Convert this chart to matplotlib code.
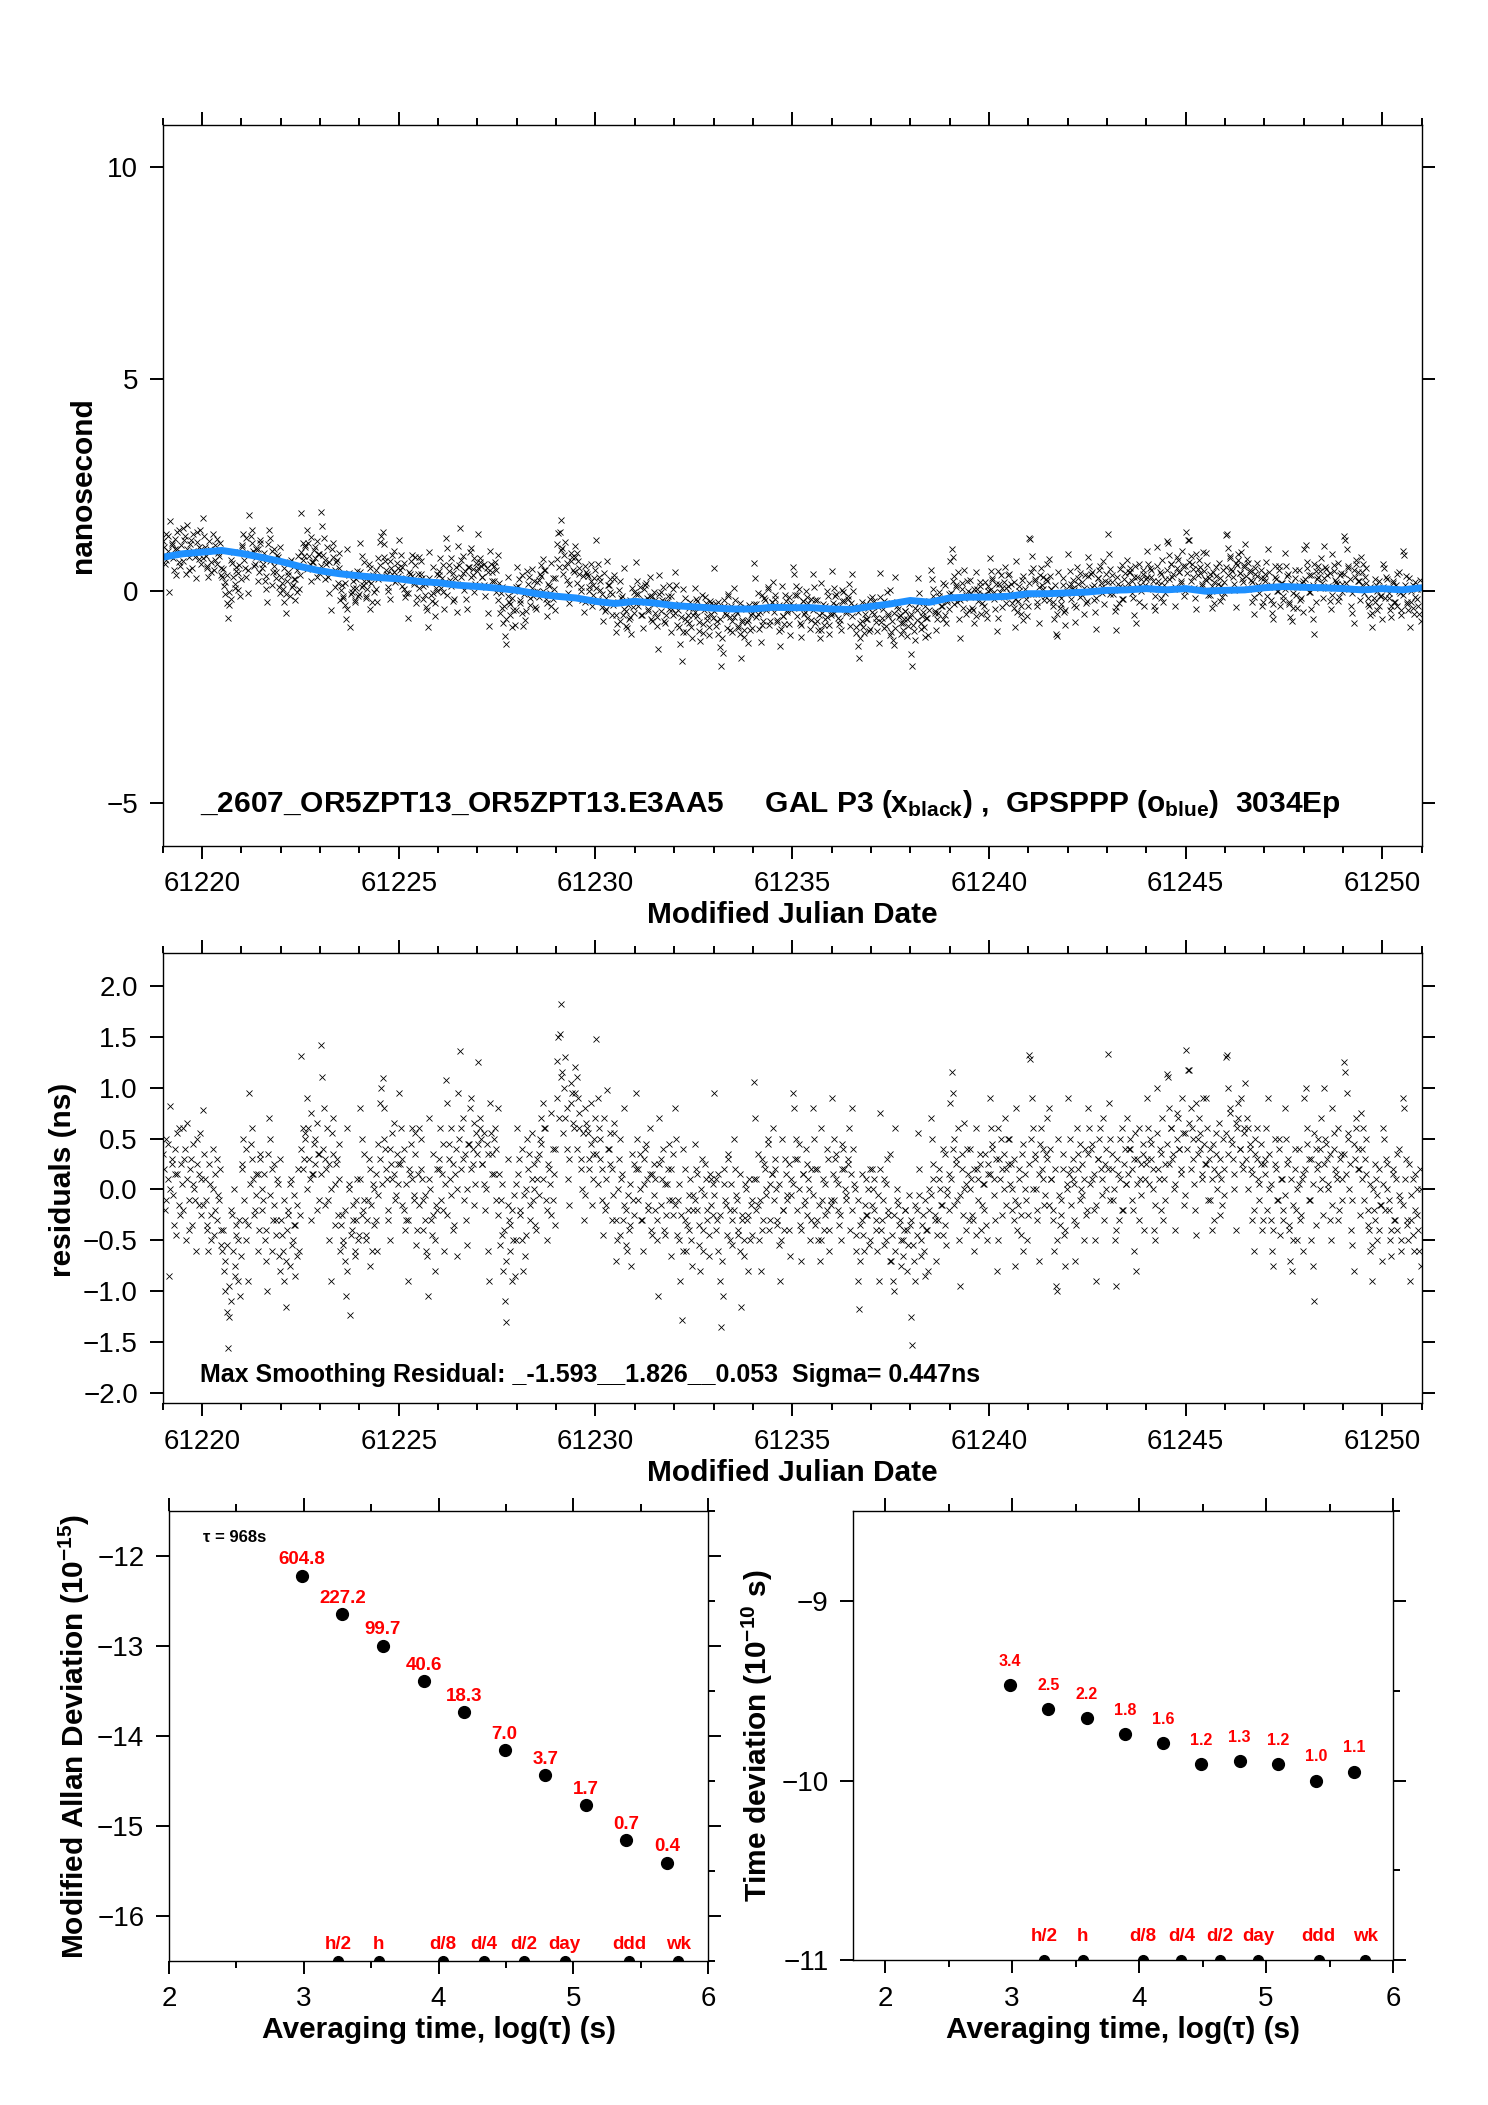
import numpy as np
import matplotlib
matplotlib.use('Agg')
import matplotlib.pyplot as plt
from matplotlib.ticker import MultipleLocator, ScalarFormatter

# ---------------- data ----------------
mjd_start, mjd_end = 61219.0, 61251.0

# smoothed (blue, GPSPPP) curve, ns, every half day from 61219.0 to 61251.0
blue_ns = [0.80, 0.88, 0.92, 0.96, 0.89, 0.80, 0.70, 0.58, 0.48, 0.41,
           0.36, 0.32, 0.29, 0.23, 0.20, 0.14, 0.11, 0.07, 0.02, -0.06,
           -0.12, -0.16, -0.24, -0.29, -0.24, -0.28, -0.34, -0.37, -0.40, -0.42,
           -0.42, -0.38, -0.39, -0.39, -0.42, -0.43, -0.36, -0.30, -0.22, -0.26,
           -0.16, -0.14, -0.14, -0.12, -0.06, -0.06, -0.04, -0.02, 0.02, 0.03,
           0.06, 0.03, 0.06, 0.00, 0.02, 0.03, 0.08, 0.11, 0.09, 0.08,
           0.06, 0.03, 0.06, 0.03, 0.08]

# residuals (0.01 ns), one row per half day starting at 61219.0 (first pass)
resid_rows = [
    [35, -20, 50, 10, -85, 82, 25, -5, 40, -45, 15, 60, -25, 5],
    [60, 30, -50, 65, -10, 20, -35, 45, 0, -60, 25, -15, 55, 10],
    [78, 35, -10, -40, -60, 5, -25, 40, -45, 15, -30, -5, 20, -55],
    [-60, -80, -100, -120, -156, -125, -110, -25, 0, -75, -45, -90, -30, -65],
    [20, 50, -30, -50, -90, 95, 45, 30, 10, -20, -5, 15, -40, 35],
    [0, -10, -50, -70, -100, 70, 50, 20, -30, -15, -45, 10, -65, 30],
    [-30, -60, -90, -115, -40, -20, -75, 10, -50, -5, -35, -65, 20, -25],
    [131, 60, 30, 50, 90, 60, 10, -30, 15, 45, 25, 65, 35, -10],
    [142, 110, 80, 30, 20, -10, -50, -90, 55, 35, 5, 25, -25, 45],
    [-60, -25, -50, -70, -105, 60, 0, -123, -40, -15, -65, -30, 10, -45],
    [80, 50, -20, -10, -50, -30, 30, -75, -15, 5, -35, 15, -60, -5],
    [85, 100, 109, 80, 40, 10, -30, -50, 25, 55, 15, -10, 35, 5],
    [95, 60, 30, -20, -40, -30, -90, 20, 45, 10, -10, 55, -55, 15],
    [60, 50, 10, -10, -30, -60, -105, 70, 0, -45, -25, -80, -15, 20],
    [30, 60, 15, -20, -60, 108, 85, 45, 10, -5, 25, -35, 40, -65],
    [95, 136, 60, 30, -10, -30, -55, 45, 80, 20, 40, 65, 5, 35],
    [125, 60, 50, 25, 5, -20, 45, -60, -90, 55, 35, 15, 60, 40],
    [80, 15, -10, -45, -80, -110, -130, 30, -30, -60, -20, -50, -85, 5],
    [60, 30, -20, -50, -80, -65, 0, 50, 35, -30, 10, -10, 25, -40],
    [10, 35, 50, 70, 85, 60, -10, -50, 25, 5, -25, 40, 15, -35],
    [126, 150, 153, 182, 115, 100, 70, 40, 10, -15, 85, 95, 60, 120],
    [110, 90, 60, 30, 0, -30, 80, 65, 55, 20, 45, -15, 35, 70],
    [148, 90, 60, 30, -10, -45, -20, 10, 98, 40, 55, 20, -5, 65],
    [-70, -50, 30, 50, 10, -30, 80, -20, -60, -40, 5, -75, -10, 25],
    [95, 50, 20, 0, -30, -60, 30, 40, 10, -15, 60, -40, 15, -5],
    [-20, -50, -105, 70, 30, 10, -40, 5, -25, 20, 45, -65, -10, 35],
    [80, 50, -10, -50, -90, -128, 40, -30, -60, -20, -40, 10, -75, -5],
    [45, 20, -20, -55, -80, 30, -40, -5, 10, -30, -65, 15, -15, 5],
    [95, 10, -30, -60, -90, -135, -105, 20, -10, -45, 35, -20, 5, -55],
    [50, 20, -10, -40, -60, -115, -25, -50, 5, -30, -80, 10, -15, -45],
    [106, 70, 10, -15, -50, -80, 30, -30, 20, -5, 45, -40, 5, 15],
    [60, 30, 0, -30, -55, -90, 50, -20, -40, 15, -10, 25, -65, -5],
    [95, 80, 50, 30, 0, -35, -70, 15, -15, 40, -25, 10, -50, 20],
    [80, 50, 20, -30, -50, -70, 60, -10, -40, 5, -20, 30, -60, -15],
    [90, 50, 30, 10, -20, -35, -50, 20, 40, 0, -10, 25, 60, 15],
    [80, 40, 0, -60, -90, -117, -70, -30, -45, -15, 10, -25, -55, 20],
    [20, 0, -20, -30, -60, -90, 75, -40, -10, 10, -50, 30, -25, -70],
    [-70, -90, -100, 60, 0, -15, -30, -50, -65, -40, -20, -80, -55, -35],
    [-125, -153, -70, -90, -20, 55, 20, -50, -35, -60, -10, -40, -80, 0],
    [70, 50, 10, -30, -70, -30, 20, 0, -15, -45, 35, -55, -5, 15],
    [85, 115, 95, 50, 30, -10, -50, -95, 20, -25, 65, 5, 40, -30],
    [40, 10, -30, -60, 60, 20, -10, 25, -40, 5, -20, 35, -50, 15],
    [90, 60, 40, 10, -30, -80, -50, 30, 50, 20, 0, 70, -15, 25],
    [50, 25, 0, -30, -75, 80, -15, 10, -45, 35, -60, 15, -10, -25],
    [132, 128, 90, 60, 30, 0, -30, -70, 45, 20, 10, -15, 35, 70],
    [80, 40, 10, -20, -60, -95, -100, 50, -35, -10, 20, -45, -75, 5],
    [90, 50, 20, 10, -30, -70, 60, 35, -10, 0, 25, -50, 40, -20],
    [80, 60, 40, 10, -20, -50, -90, 30, 50, 20, -5, 70, 25, 0],
    [133, 85, 50, 20, -10, -50, -95, 30, -30, 10, 60, -20, 40, 5],
    [70, 40, 50, 20, -20, -60, -80, 30, 60, 10, -5, 35, -40, 25],
    [90, 60, 50, 30, 0, -40, -50, 100, 20, 40, -20, 70, 10, -10],
    [113, 110, 80, 60, 30, 0, -40, 50, 70, 40, 20, 90, -15, 55],
    [137, 117, 117, 80, 60, 30, -20, -45, 50, 70, 40, 15, 90, 25],
    [90, 60, 30, -10, -40, 45, 20, 35, 0, 65, -25, 10, 50, -5],
    [130, 132, 100, 80, 50, 30, 0, -40, 60, 70, 40, 90, 20, 55],
    [105, 70, 60, 40, 20, -30, -60, 50, 30, 10, -10, 45, -40, 25],
    [30, 60, 90, 0, -30, -60, -75, 50, 20, -10, 40, -45, 10, -20],
    [80, 50, 30, -40, -70, -80, -50, 20, -20, 0, 40, -30, 10, -60],
    [90, 100, 60, 30, -10, -50, -75, -110, 40, 20, 50, 0, 70, -25],
    [100, 50, 30, 0, -30, -50, 80, 40, 20, 10, 60, -20, 35, -10],
    [125, 115, 95, 50, 0, -40, -55, -80, 30, 60, 40, 20, 75, 10],
    [60, 30, 50, -20, -40, -60, -90, 0, -30, 10, -50, 20, -15, -70],
    [60, 50, 30, 0, -20, -50, -65, 20, -30, 10, -40, 40, -10, -60],
    [90, 80, 30, -30, -50, -90, -30, 10, -60, -20, 0, -40, 20, -75],
]

# residuals (0.01 ns), second pass of the dense core, one row per half day
resid_rows_b = [
    [20, -10, 45, 0, 30, -35, 15, 55, -15, 25],
    [-20, 40, 10, -40, 30, 5, -10, 50, 15, -25],
    [-15, 10, -35, 25, -50, 0, -20, 30, -10, -40],
    [-40, -70, -55, -95, -20, -60, -85, -35, -50, -105],
    [25, -10, 40, -35, 5, 60, -25, 15, -60, 30],
    [-20, 15, -40, 35, -5, -60, 25, -30, 5, -80],
    [-45, -10, -70, -25, 5, -55, -35, -85, -15, -60],
    [40, 20, 55, 0, 30, 75, 15, 50, -20, 35],
    [15, 40, -15, 60, 25, 0, 70, -35, 30, 10],
    [-35, -55, -20, -80, 5, -45, -30, -60, -10, -50],
    [10, -25, 35, -45, -10, 20, -60, 0, -30, 45],
    [30, 5, 50, 20, -20, 40, 10, 65, -5, 25],
    [25, -15, 40, 5, -30, 15, 60, -5, 35, -40],
    [-15, 20, -40, -5, -65, 10, -30, 35, -50, -20],
    [20, -10, 45, 5, -25, 30, 60, -40, 15, 0],
    [50, 20, 70, 35, 0, 45, 90, 25, -15, 55],
    [45, 70, 25, 55, 0, 35, 85, 15, 50, -10],
    [-25, -55, 5, -40, -70, -15, -35, -90, -5, -50],
    [15, -25, 40, -5, -45, 20, -15, 55, 0, -35],
    [30, -5, 45, 10, 60, -20, 20, 75, -10, 40],
    [90, 70, 110, 55, 130, 80, 30, 105, 65, 95],
    [40, 75, 20, 55, -5, 60, 30, 85, 10, 50],
    [35, 5, 50, 20, 70, -15, 40, 25, -30, 55],
    [-30, 0, -45, 15, -15, -55, -5, -35, 35, -25],
    [20, -10, 35, -30, 5, 45, -20, 15, -45, 25],
    [10, -30, 25, -15, 40, -45, 5, -10, 20, -25],
    [-15, -45, 5, -25, -60, 20, -35, -5, -50, -20],
    [-10, 15, -35, 0, -60, 25, -20, -45, 10, -25],
    [-5, -40, 15, -25, -70, 5, -15, 30, -50, -30],
    [-20, -5, -45, 15, -30, -65, 0, -25, -50, -10],
    [10, -20, 35, -10, -40, 25, 0, 50, -30, 15],
    [-10, 20, -35, 5, -50, -20, 30, -5, -40, 10],
    [5, 30, -20, 45, -40, 15, -10, 25, 0, -30],
    [-5, -35, 20, -15, -50, 10, -25, 40, -40, -10],
    [15, -10, 35, 5, -25, 45, 20, -5, 30, -40],
    [-20, 5, -45, -10, -35, 15, -60, -25, 0, -50],
    [-15, 10, -40, -5, 20, -30, -55, 5, -20, 35],
    [-45, -25, -60, -10, -35, -75, -50, -20, -40, -5],
    [-30, -55, -15, -45, -5, -65, -25, -85, -40, -20],
    [-5, 25, -25, -45, 10, -15, 40, -35, 0, -20],
    [10, 40, -15, 25, 60, -5, 35, 0, -40, 15],
    [0, -25, 20, -45, 10, 35, -15, 5, -35, 25],
    [15, 45, -5, 30, 60, 10, -25, 35, 20, 50],
    [5, -20, 30, -10, -40, 20, -25, 45, 0, -50],
    [25, 50, 0, 35, -20, 15, 60, 40, -5, 30],
    [-15, 10, -30, 20, -50, -5, -25, 35, -40, 0],
    [15, -15, 30, 5, -35, 20, 45, -5, 10, -25],
    [35, 5, 45, 15, -15, 30, 60, 10, -30, 40],
    [20, -10, 35, 0, -40, 15, 50, -20, 25, 5],
    [15, 40, -10, 30, 55, 5, -30, 25, 45, 10],
    [30, 5, 45, 20, -15, 55, 10, 35, -30, 25],
    [45, 25, 60, 35, 5, 75, 40, 15, 55, -5],
    [40, 65, 20, 50, 5, 85, 35, 55, 10, 45],
    [25, -10, 40, 10, -30, 55, 15, 30, -15, 20],
    [55, 35, 75, 45, 15, 65, 85, 40, 25, 60],
    [30, 0, 45, 15, -20, 35, 60, 5, 25, -30],
    [15, -20, 35, 5, -40, 25, -10, 50, 10, -30],
    [-5, 25, -35, 10, -15, 40, -50, 5, -25, 15],
    [20, 45, -10, 30, 5, 55, -35, 25, 40, 10],
    [25, 45, 5, 35, -15, 55, 15, -30, 30, 10],
    [35, 15, 55, 25, -10, 45, 70, 20, -25, 40],
    [-10, 15, -35, 5, -55, -20, 25, -5, -40, -15],
    [5, -20, 25, -10, -40, 15, -30, 35, -5, -50],
    [-15, 10, -35, 25, -5, -45, 15, -25, -60, 0],
]

adev_logtau = [2.986, 3.287, 3.588, 3.889, 4.190, 4.491, 4.792, 5.093, 5.394, 5.695]
adev_log = [-12.22, -12.65, -13.00, -13.39, -13.74, -14.16, -14.44, -14.77, -15.16, -15.41]
adev_labels = ['604.8', '227.2', '99.7', '40.6', '18.3', '7.0', '3.7', '1.7', '0.7', '0.4']
tdev_log = [-9.47, -9.60, -9.65, -9.74, -9.79, -9.91, -9.89, -9.91, -10.00, -9.95]
tdev_labels = ['3.4', '2.5', '2.2', '1.8', '1.6', '1.2', '1.3', '1.2', '1.0', '1.1']
unit_logtau = [3.255, 3.556, 4.033, 4.334, 4.635, 4.936, 5.414, 5.781]
unit_labels = ['h/2', 'h', 'd/8', 'd/4', 'd/2', 'day', 'ddd', 'wk']

title_text = ("_2607_OR5ZPT13_OR5ZPT13.E3AA5     GAL P3 (x$_{black}$) ,  "
              "GPSPPP (o$_{blue}$)  3034Ep")
resid_text = "Max Smoothing Residual: _-1.593__1.826__0.053  Sigma= 0.447ns"
tau_text = "\u03c4 = 968s"

# ---------------- style ----------------
plt.rcParams['font.family'] = ['Liberation Sans', 'DejaVu Sans']
plt.rcParams['mathtext.fontset'] = 'custom'
plt.rcParams['mathtext.rm'] = 'Liberation Sans'
plt.rcParams['mathtext.bf'] = 'Liberation Sans:bold'
plt.rcParams['mathtext.it'] = 'Liberation Sans:italic'
plt.rcParams['mathtext.default'] = 'bf'
plt.rcParams['axes.linewidth'] = 1.0

W, H = 1488, 2105
fig = plt.figure(figsize=(W / 100, H / 100), dpi=100)


def box(l, t, r, b):
    return [l / W, 1 - b / H, (r - l) / W, (b - t) / H]


ax1 = fig.add_axes(box(162.7, 124.5, 1421.7, 845.7))
ax2 = fig.add_axes(box(162.7, 953.3, 1421.7, 1403.2))
ax3 = fig.add_axes(box(169, 1511, 708, 1960.7))
ax4 = fig.add_axes(box(853.3, 1511, 1393, 1960.3))

TICK_FS = 20
LAB_FS = 21.5


def style(ax):
    ax.tick_params(which='both', direction='out', top=True, right=True,
                   labeltop=False, labelright=False, width=1.4, labelsize=TICK_FS)
    ax.tick_params(which='major', length=9.3)
    ax.tick_params(which='minor', length=5)
    ax.tick_params(axis='x', pad=9)
    ax.tick_params(axis='y', pad=8.5)
    ax.yaxis.set_major_formatter(ScalarFormatter(useOffset=False))
    ax.xaxis.set_major_formatter(ScalarFormatter(useOffset=False))


# ---------------- series assembly ----------------
blue_arr = np.array(blue_ns)


def series(rows):
    r = np.array([v for row in rows for v in row], dtype=float) / 100.0
    k = len(rows[0])
    n = r.size
    tt = mjd_start + (np.arange(n) + 0.5) * (mjd_end - mjd_start) / n
    sg = np.arange(n) // k
    base = 0.5 * (blue_arr[sg] + blue_arr[sg + 1])
    return tt, r, base + r


t_a, res_a, top_a = series(resid_rows)
t_b, res_b, top_b = series(resid_rows_b)
t_all = np.concatenate([t_a, t_b])
res_all = np.concatenate([res_a, res_b])
top_all = np.concatenate([top_a, top_b])
blue_t = mjd_start + 0.5 * np.arange(len(blue_ns))

# ---------------- panel 1 ----------------
ax1.plot(t_all, top_all, 'x', color='black', ms=4.5, mew=0.6)
ax1.plot(blue_t, blue_ns, '-', color='#1E90FF', lw=5, solid_capstyle='round')
ax1.set_xlim(mjd_start, mjd_end)
ax1.set_ylim(-6, 11)
ax1.xaxis.set_major_locator(MultipleLocator(5))
ax1.xaxis.set_minor_locator(MultipleLocator(1))
ax1.yaxis.set_major_locator(MultipleLocator(5))
style(ax1)
ax1.text(61219.95, -5.2, title_text, ha='left', va='baseline',
         fontsize=21.5, fontweight='bold')

# ---------------- panel 2 ----------------
ax2.plot(t_all, res_all, 'x', color='black', ms=4.5, mew=0.6)
ax2.set_xlim(mjd_start, mjd_end)
ax2.set_ylim(-2.1, 2.32)
ax2.xaxis.set_major_locator(MultipleLocator(5))
ax2.xaxis.set_minor_locator(MultipleLocator(1))
ax2.yaxis.set_major_locator(MultipleLocator(0.5))
style(ax2)
ax2.text(61219.95, -1.89, resid_text, ha='left', va='baseline',
         fontsize=18, fontweight='bold')

# ---------------- panel 3 (MDEV) ----------------
ax3.plot(adev_logtau, adev_log, 'o', color='black', ms=8.5)
for x, y, s in zip(adev_logtau, adev_log, adev_labels):
    ax3.annotate(s, (x, y), xytext=(0, 11.5), textcoords='offset points',
                 ha='center', va='center', color='red', fontsize=13.5,
                 fontweight='bold')
ax3.plot(unit_logtau, [-16.5] * len(unit_logtau), 'o', color='black', ms=7,
         clip_on=True)
for x, s in zip(unit_logtau, unit_labels):
    ax3.annotate(s, (x, -16.5), xytext=(0, 11.5), textcoords='offset points',
                 ha='center', va='center', color='red', fontsize=13.5,
                 fontweight='bold')
ax3.text(2.25, -11.79, tau_text, ha='left', va='center', fontsize=12,
         fontweight='bold')
ax3.set_xlim(2, 6)
ax3.set_ylim(-16.5, -11.5)
ax3.xaxis.set_major_locator(MultipleLocator(1))
ax3.xaxis.set_minor_locator(MultipleLocator(0.5))
ax3.yaxis.set_major_locator(MultipleLocator(1))
ax3.yaxis.set_minor_locator(MultipleLocator(0.5))
style(ax3)
ax3.tick_params(axis='y', which='minor', left=False)

# ---------------- panel 4 (TDEV) ----------------
ax4.plot(adev_logtau, tdev_log, 'o', color='black', ms=8.5)
for x, y, s in zip(adev_logtau, tdev_log, tdev_labels):
    ax4.annotate(s, (x, y), xytext=(0, 17), textcoords='offset points',
                 ha='center', va='center', color='red', fontsize=11.5,
                 fontweight='bold')
ax4.plot(unit_logtau, [-11] * len(unit_logtau), 'o', color='black', ms=7,
         clip_on=True)
for x, s in zip(unit_logtau, unit_labels):
    ax4.annotate(s, (x, -11), xytext=(0, 17), textcoords='offset points',
                 ha='center', va='center', color='red', fontsize=13.5,
                 fontweight='bold')
ax4.set_xlim(1.75, 6)
ax4.set_ylim(-11, -8.5)
ax4.xaxis.set_major_locator(MultipleLocator(1))
ax4.xaxis.set_minor_locator(MultipleLocator(0.5))
ax4.yaxis.set_major_locator(MultipleLocator(1))
ax4.yaxis.set_minor_locator(MultipleLocator(0.5))
style(ax4)
ax4.tick_params(axis='y', which='minor', left=False)


# ---------------- axis labels ----------------
def ftext(x, y, s, **kw):
    fig.text(x / W, 1 - y / H, s, fontsize=LAB_FS, fontweight='bold', **kw)


ftext(792, 923, "Modified Julian Date", ha='center', va='baseline')
ftext(792, 1481, "Modified Julian Date", ha='center', va='baseline')
ftext(438.5, 2038, "Averaging time, log(\u03c4) (s)", ha='center', va='baseline')
ftext(1123, 2038, "Averaging time, log(\u03c4) (s)", ha='center', va='baseline')
ftext(82.7, 485, "nanosecond", ha='center', va='center', rotation=90)
ftext(63, 1180, "residuals (ns)", ha='center', va='center', rotation=90)
ftext(74, 1736, "Modified Allan Deviation (10$^{-15}$)", ha='center',
      va='center', rotation=90)
ftext(757, 1736, "Time deviation (10$^{-10}$ s)", ha='center', va='center',
      rotation=90)

fig.savefig('out.png', dpi=100)
